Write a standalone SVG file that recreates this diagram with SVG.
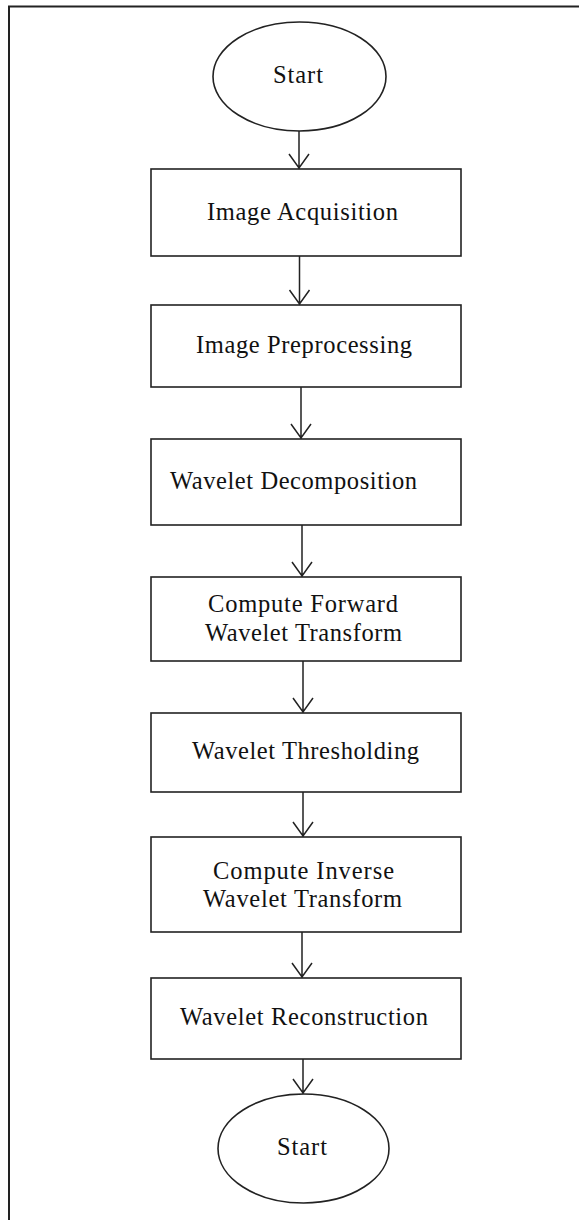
<svg xmlns="http://www.w3.org/2000/svg" width="579" height="1220" viewBox="0 0 579 1220">
<style>
.b{fill:#fff;stroke:#222;stroke-width:1.6}
text{font-family:'Liberation Serif','Times New Roman','DejaVu Serif',serif;font-size:24.5px;fill:#111}
.c{fill:none;stroke:#222;stroke-width:1.5}
</style>
<rect width="579" height="1220" fill="#fff"/>
<path d="M9,1220 V6.5 H579" fill="none" stroke="#222" stroke-width="2"/>
<g id="start">
<ellipse class="b" cx="299.5" cy="76.5" rx="86.5" ry="54.5"/>
<text font-family="Liberation Serif, serif" x="273" y="83" textLength="50" lengthAdjust="spacing">Start</text>
</g>
<g id="acq">
<rect class="b" x="151" y="169" width="310" height="87"/>
<text font-family="Liberation Serif, serif" x="207" y="220" textLength="191" lengthAdjust="spacing">Image Acquisition</text>
</g>
<g id="pre">
<rect class="b" x="151" y="305" width="310" height="82"/>
<text font-family="Liberation Serif, serif" x="196" y="353" textLength="216" lengthAdjust="spacing">Image Preprocessing</text>
</g>
<g id="dec">
<rect class="b" x="151" y="439" width="310" height="86"/>
<text font-family="Liberation Serif, serif" x="170" y="489" textLength="247" lengthAdjust="spacing">Wavelet Decomposition</text>
</g>
<g id="fwd">
<rect class="b" x="151" y="577" width="310" height="84"/>
<text font-family="Liberation Serif, serif" x="208" y="612" textLength="190" lengthAdjust="spacing">Compute Forward</text>
<text font-family="Liberation Serif, serif" x="205" y="641" textLength="197" lengthAdjust="spacing">Wavelet Transform</text>
</g>
<g id="thr">
<rect class="b" x="151" y="713" width="310" height="79"/>
<text font-family="Liberation Serif, serif" x="192" y="759" textLength="227" lengthAdjust="spacing">Wavelet Thresholding</text>
</g>
<g id="inv">
<rect class="b" x="151" y="837" width="310" height="95"/>
<text font-family="Liberation Serif, serif" x="213" y="879" textLength="181" lengthAdjust="spacing">Compute Inverse</text>
<text font-family="Liberation Serif, serif" x="203" y="907" textLength="199" lengthAdjust="spacing">Wavelet Transform</text>
</g>
<g id="rec">
<rect class="b" x="151" y="978" width="310" height="81"/>
<text font-family="Liberation Serif, serif" x="180" y="1025" textLength="248" lengthAdjust="spacing">Wavelet Reconstruction</text>
</g>
<g id="end">
<ellipse class="b" cx="303.5" cy="1148.5" rx="85.5" ry="54.5"/>
<text font-family="Liberation Serif, serif" x="277" y="1155" textLength="50" lengthAdjust="spacing">Start</text>
</g>
<g id="connectors">
<path class="c" d="M299,131 V169 M289,154 L299,168 L309,154"/>
<path class="c" d="M299.5,256 V305 M289.5,290 L299.5,304 L309.5,290"/>
<path class="c" d="M301,387 V439 M291,424 L301,438 L311,424"/>
<path class="c" d="M302,525 V577 M292,562 L302,576 L312,562"/>
<path class="c" d="M303,661 V713 M293,698 L303,712 L313,698"/>
<path class="c" d="M303,792 V837 M293,822 L303,836 L313,822"/>
<path class="c" d="M302,932 V978 M292,963 L302,977 L312,963"/>
<path class="c" d="M303,1059 V1094 M293,1079 L303,1093 L313,1079"/>
</g>
</svg>
